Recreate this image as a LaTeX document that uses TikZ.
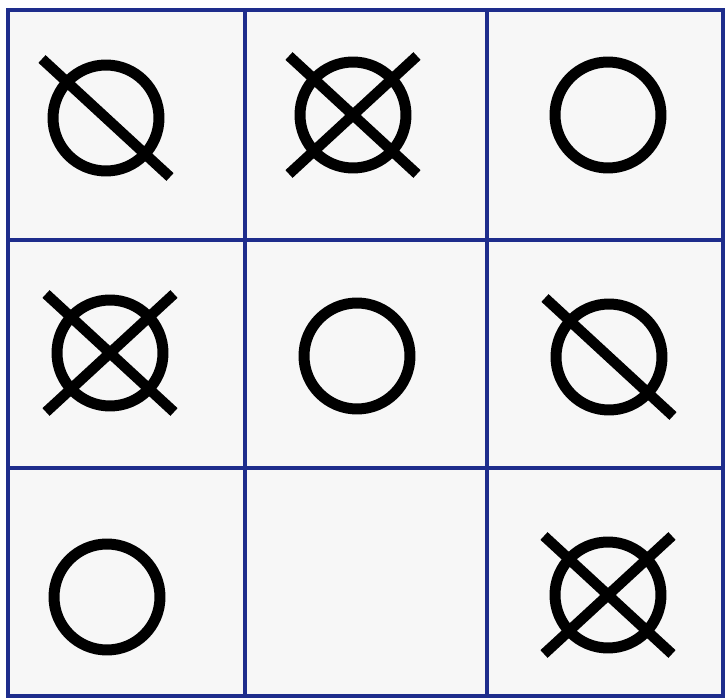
\documentclass[tikz,border=0pt]{standalone}
\definecolor{gridblue}{RGB}{30,45,140}
\begin{document}
\begin{tikzpicture}[
  x=0.02cm, y=-0.02cm,
  gridline/.style={draw=gridblue, line width=0.09cm},
  ring/.style={circle, draw=black, line width=0.22cm, minimum size=2.12cm, inner sep=0pt},
  bar/.style={draw=black, line width=0.21cm}]
  % board
  \fill[white] (0,0) rectangle (728,699);
  \fill[gray!6] (8,10) rectangle (723,696);
  \foreach \x in {245,487} \draw[gridline] (\x,10) -- (\x,696);
  \foreach \y in {240,468} \draw[gridline] (8,\y) -- (723,\y);
  \draw[gridline] (8,10) rectangle (723,696);
  % rings
  \node[ring] (o11) at (106,118) {};
  \node[ring] (o12) at (353,115) {};
  \node[ring] (o13) at (608,115) {};
  \node[ring] (o21) at (110,353) {};
  \node[ring] (o22) at (357,356) {};
  \node[ring] (o23) at (609,357) {};
  \node[ring] (o31) at (107,597) {};
  \node[ring] (o33) at (608,595) {};
  % strokes
  \foreach \n in {o11,o12,o21,o23,o33}
    \draw[bar] ([shift={(-64,-59)}]\n.center) -- ([shift={(64,59)}]\n.center);
  \foreach \n in {o12,o21,o33}
    \draw[bar] ([shift={(64,-59)}]\n.center) -- ([shift={(-64,59)}]\n.center);
\end{tikzpicture}
\end{document}
